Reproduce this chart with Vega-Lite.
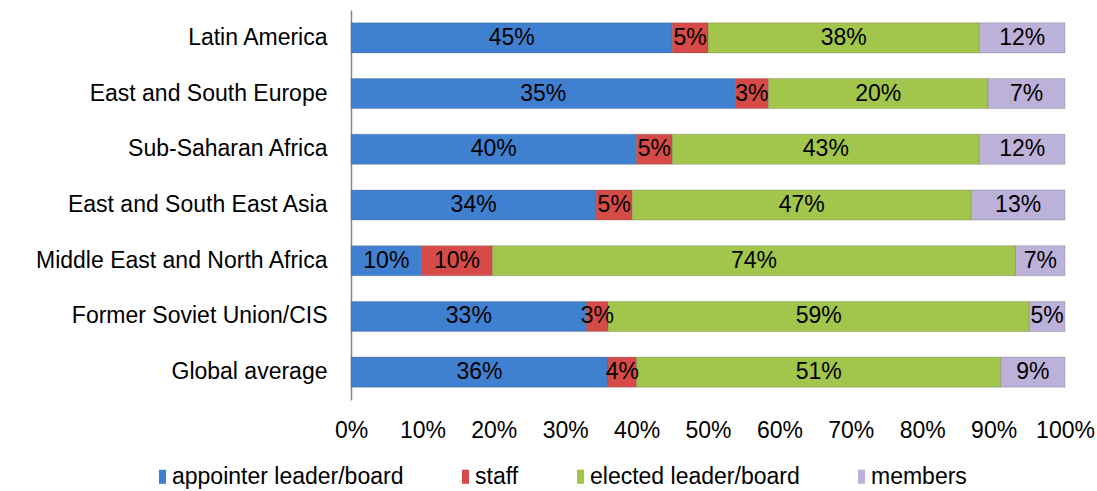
{
  "$schema": "https://vega.github.io/schema/vega-lite/v6.json",
  "autosize": "none",
  "width": 714,
  "height": 390,
  "padding": {"left": 351, "top": 10, "right": 32, "bottom": 91},
  "background": "white",
  "config": {
    "font": "Liberation Sans",
    "view": {"stroke": null}
  },
  "data": {
    "values": [
      {"region": "Latin America", "type": "appointer leader/board", "order": 0, "value": 45},
      {"region": "Latin America", "type": "staff", "order": 1, "value": 5},
      {"region": "Latin America", "type": "elected leader/board", "order": 2, "value": 38},
      {"region": "Latin America", "type": "members", "order": 3, "value": 12},
      {"region": "East and South Europe", "type": "appointer leader/board", "order": 0, "value": 35},
      {"region": "East and South Europe", "type": "staff", "order": 1, "value": 3},
      {"region": "East and South Europe", "type": "elected leader/board", "order": 2, "value": 20},
      {"region": "East and South Europe", "type": "members", "order": 3, "value": 7},
      {"region": "Sub-Saharan Africa", "type": "appointer leader/board", "order": 0, "value": 40},
      {"region": "Sub-Saharan Africa", "type": "staff", "order": 1, "value": 5},
      {"region": "Sub-Saharan Africa", "type": "elected leader/board", "order": 2, "value": 43},
      {"region": "Sub-Saharan Africa", "type": "members", "order": 3, "value": 12},
      {"region": "East and South East Asia", "type": "appointer leader/board", "order": 0, "value": 34},
      {"region": "East and South East Asia", "type": "staff", "order": 1, "value": 5},
      {"region": "East and South East Asia", "type": "elected leader/board", "order": 2, "value": 47},
      {"region": "East and South East Asia", "type": "members", "order": 3, "value": 13},
      {"region": "Middle East and North Africa", "type": "appointer leader/board", "order": 0, "value": 10},
      {"region": "Middle East and North Africa", "type": "staff", "order": 1, "value": 10},
      {"region": "Middle East and North Africa", "type": "elected leader/board", "order": 2, "value": 74},
      {"region": "Middle East and North Africa", "type": "members", "order": 3, "value": 7},
      {"region": "Former Soviet Union/CIS", "type": "appointer leader/board", "order": 0, "value": 33},
      {"region": "Former Soviet Union/CIS", "type": "staff", "order": 1, "value": 3},
      {"region": "Former Soviet Union/CIS", "type": "elected leader/board", "order": 2, "value": 59},
      {"region": "Former Soviet Union/CIS", "type": "members", "order": 3, "value": 5},
      {"region": "Global average", "type": "appointer leader/board", "order": 0, "value": 36},
      {"region": "Global average", "type": "staff", "order": 1, "value": 4},
      {"region": "Global average", "type": "elected leader/board", "order": 2, "value": 51},
      {"region": "Global average", "type": "members", "order": 3, "value": 9}
    ]
  },
  "transform": [
    {"stack": "value", "groupby": ["region"], "sort": [{"field": "order", "order": "ascending"}], "offset": "normalize", "as": ["x0", "x1"]},
    {"calculate": "(datum.x0 + datum.x1) / 2", "as": "xm"},
    {"calculate": "datum.value + '%'", "as": "label"}
  ],
  "encoding": {
    "y": {
      "field": "region",
      "type": "nominal",
      "sort": ["Latin America", "East and South Europe", "Sub-Saharan Africa", "East and South East Asia", "Middle East and North Africa", "Former Soviet Union/CIS", "Global average"],
      "scale": {"paddingInner": 0.46, "paddingOuter": 0.23},
      "axis": {
        "title": null,
        "domain": true,
        "domainColor": "#888888",
        "domainWidth": 1.5,
        "ticks": false,
        "labelFontSize": 23,
        "labelColor": "#000000",
        "labelPadding": 24,
        "labelLimit": 400
      }
    }
  },
  "layer": [
    {
      "mark": {"type": "bar", "stroke": "#555555", "strokeOpacity": 0.25, "strokeWidth": 1},
      "encoding": {
        "x": {
          "field": "x0",
          "type": "quantitative",
          "scale": {"domain": [0, 1]},
          "axis": {
            "title": null,
            "format": ".0%",
            "values": [0, 0.1, 0.2, 0.3, 0.4, 0.5, 0.6, 0.7, 0.8, 0.9, 1],
            "domain": false,
            "ticks": false,
            "grid": false,
            "labelFontSize": 23,
            "labelColor": "#000000",
            "labelPadding": 19,
            "labelFlush": false
          }
        },
        "x2": {"field": "x1"},
        "color": {
          "field": "type",
          "type": "nominal",
          "sort": ["appointer leader/board", "staff", "elected leader/board", "members"],
          "scale": {
            "domain": ["appointer leader/board", "staff", "elected leader/board", "members"],
            "range": ["#4080d0", "#d64b47", "#a2c54b", "#bcb1d9"]
          },
          "legend": {
            "title": null,
            "orient": "none",
            "direction": "horizontal",
            "legendX": -200,
            "legendY": 455,
            "symbolType": "M-0.5,-1H0.5V1H-0.5Z",
            "symbolSize": 200,
            "symbolStrokeWidth": 0,
            "labelFontSize": 23,
            "labelColor": "#000000",
            "labelLimit": 0,
            "labelOffset": -2,
            "columnPadding": 50,
            "symbolOffset": 0
          }
        }
      }
    },
    {
      "mark": {"type": "text", "fontSize": 23, "color": "#000000", "align": "center", "baseline": "middle"},
      "encoding": {
        "x": {"field": "xm", "type": "quantitative"},
        "text": {"field": "label", "type": "nominal"}
      }
    }
  ]
}
